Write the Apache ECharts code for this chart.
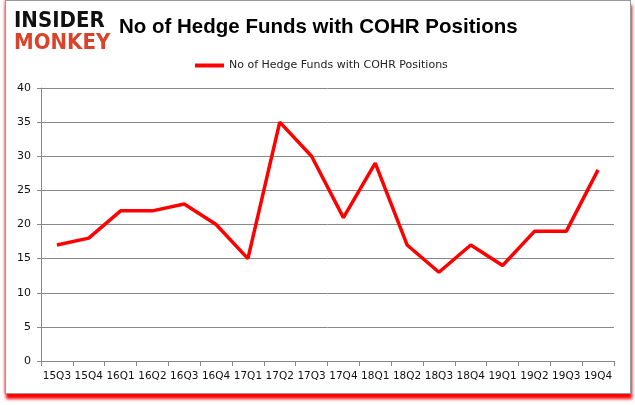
<!DOCTYPE html>
<html><head><meta charset="utf-8">
<script src="https://cdn.jsdelivr.net/npm/echarts@6/dist/echarts.min.js"></script>
<style>
html,body{margin:0;padding:0;background:#fff;}
#frame{position:absolute;left:5px;top:0px;width:624px;height:392px;border:1px solid #999;box-shadow:1px 5px 3px #f00, -1px 0 2px #f99;background:#fff;}
#c{position:absolute;left:0;top:0;width:635px;height:405px;}
</style></head>
<body>
<div id="frame"></div>
<div id="c"></div>
<script>
const categories = ['15Q3','15Q4','16Q1','16Q2','16Q3','16Q4','17Q1','17Q2','17Q3','17Q4','18Q1','18Q2','18Q3','18Q4','19Q1','19Q2','19Q3','19Q4'];
const hedgeFunds = [17,18,22,22,23,20,15,35,30,21,29,17,13,17,14,19,19,28];
const seriesName = 'No of Hedge Funds with COHR Positions';
const chartTitle = 'No of Hedge Funds with COHR Positions';

const chart = echarts.init(document.getElementById('c'));
chart.setOption({
  animation:false,
  title:[
    {text:chartTitle,left:114,top:12,textStyle:{fontFamily:'Liberation Sans',fontWeight:'bold',fontSize:20.5,color:'#000'}},
    {text:'INSIDER',left:9,top:5,textStyle:{fontFamily:'DejaVu Sans Condensed',fontWeight:'900',fontSize:22,color:'#111'}},
    {text:'MONKEY',left:9,top:27,textStyle:{fontFamily:'DejaVu Sans Condensed',fontWeight:'900',fontSize:22,color:'#d9432b'}}
  ],
  legend:{top:55,left:190,itemWidth:29,itemHeight:4,icon:'rect',itemGap:3,
    textStyle:{fontFamily:'DejaVu Sans',fontSize:11,color:'#222'},data:[seriesName]},
  grid:{left:41,right:21,top:88,bottom:44},
  xAxis:{type:'category',data:categories,boundaryGap:true,
    axisLine:{lineStyle:{color:'#888'}},
    axisTick:{show:true,inside:false,length:5,lineStyle:{color:'#888'}},
    axisLabel:{fontFamily:'DejaVu Sans',fontSize:10.5,color:'#111',margin:10,interval:0}},
  yAxis:{type:'value',min:0,max:40,interval:5,
    axisLine:{show:true,lineStyle:{color:'#888'}},
    axisTick:{show:true,length:4,lineStyle:{color:'#888'}},
    splitLine:{lineStyle:{color:'#888',width:1}},
    axisLabel:{fontFamily:'DejaVu Sans',fontSize:11,color:'#111',margin:10}},
  series:[{name:seriesName,type:'line',data:hedgeFunds,symbol:'none',
    lineStyle:{color:'#ff0000',width:3.5},itemStyle:{color:'#ff0000'}}]
});
</script>
</body></html>
